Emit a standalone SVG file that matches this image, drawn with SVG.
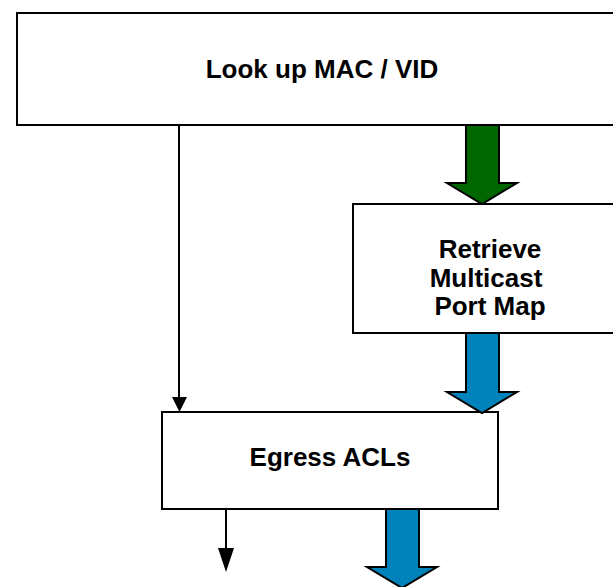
<svg xmlns="http://www.w3.org/2000/svg" width="613" height="587" viewBox="0 0 613 587">
<style>
.box{fill:#fff;stroke:#000;stroke-width:2}
.t{font-family:"Liberation Sans",Arial,sans-serif;font-weight:bold;font-size:26px;fill:#000;text-anchor:middle}
.ln{stroke:#000;stroke-width:2;fill:none}
.g{fill:#006600;stroke:#000;stroke-width:2;stroke-linejoin:miter}
.b{fill:#0082BA;stroke:#000;stroke-width:2;stroke-linejoin:miter}
.hd{fill:#000;stroke:none}
</style>
<rect width="613" height="587" fill="#fff"/>
<g id="lookup">
<rect class="box" x="17" y="13" width="610" height="112"/>
<text class="t" x="322" y="78">Look up MAC / VID</text>
</g>
<g id="retrieve">
<rect class="box" x="353" y="204" width="274" height="129"/>
<text class="t" x="490" y="258">Retrieve</text>
<text class="t" x="486" y="287">Multicast</text>
<text class="t" x="490" y="315">Port Map</text>
</g>
<g id="egress">
<rect class="box" x="162" y="412" width="336" height="97"/>
<text class="t" x="330" y="466">Egress ACLs</text>
</g>
<g id="connectors">
<line class="ln" x1="179" y1="125" x2="179" y2="398"/>
<polygon class="hd" points="172,397 187,397 179.5,412"/>
<line class="ln" x1="226" y1="509" x2="226" y2="549"/>
<polygon class="hd" points="218,548 234,548 226,572"/>
<polygon class="g" points="466,125 499,125 499,183 517,183 482,204 447,183 466,183"/>
<polygon class="b" points="466,333 499,333 499,392 517,392 482,413 447,392 466,392"/>
<polygon class="b" points="386,509 419,509 419,567 437,567 402,588 367,567 386,567"/>
</g>
</svg>
